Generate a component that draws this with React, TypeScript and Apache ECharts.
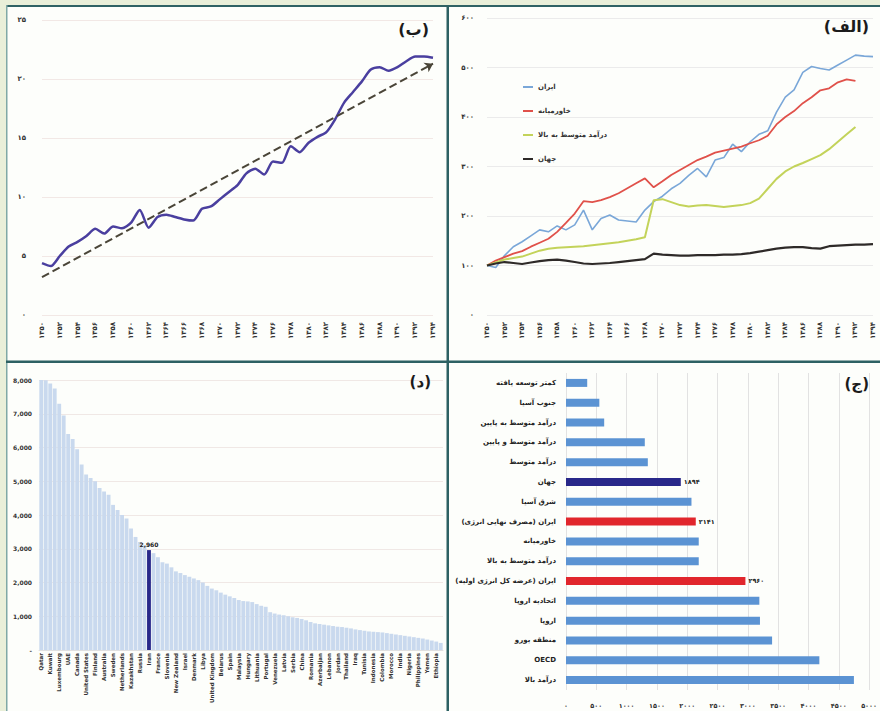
import React, { useEffect, useRef } from "react";
import * as echarts from "echarts";

const FONT = "'DejaVu Sans', 'Noto Sans', sans-serif";

// ---------- shared year categories ----------
const years = [
  "۱۳۵۰", "۱۳۵۱", "۱۳۵۲", "۱۳۵۳", "۱۳۵۴", "۱۳۵۵", "۱۳۵۶", "۱۳۵۷", "۱۳۵۸", "۱۳۵۹",
  "۱۳۶۰", "۱۳۶۱", "۱۳۶۲", "۱۳۶۳", "۱۳۶۴", "۱۳۶۵", "۱۳۶۶", "۱۳۶۷", "۱۳۶۸", "۱۳۶۹",
  "۱۳۷۰", "۱۳۷۱", "۱۳۷۲", "۱۳۷۳", "۱۳۷۴", "۱۳۷۵", "۱۳۷۶", "۱۳۷۷", "۱۳۷۸", "۱۳۷۹",
  "۱۳۸۰", "۱۳۸۱", "۱۳۸۲", "۱۳۸۳", "۱۳۸۴", "۱۳۸۵", "۱۳۸۶", "۱۳۸۷", "۱۳۸۸", "۱۳۸۹",
  "۱۳۹۰", "۱۳۹۱", "۱۳۹۲", "۱۳۹۳", "۱۳۹۴",
];

// ---------- panel (ب) ----------
const seriesB = [
  4.4, 4.15, 5.0, 5.8, 6.2, 6.7, 7.3, 6.9, 7.5, 7.35,
  7.8, 8.9, 7.4, 8.3, 8.5, 8.3, 8.1, 8.0, 9.0, 9.2,
  9.8, 10.4, 11.0, 12.0, 12.4, 11.9, 13.0, 12.9, 14.3, 13.8,
  14.6, 15.1, 15.5, 16.6, 18.0, 18.9, 19.8, 20.8, 21.0, 20.7,
  21.0, 21.5, 21.9, 21.9, 21.8,
];
const trendB = [3.2, 21.3];

// ---------- panel (الف) ----------
const iranIdx = [
  100, 96, 120, 138, 148, 160, 172, 168, 180, 172,
  182, 212, 172, 195, 202, 192, 190, 188, 212, 229,
  240, 255, 266, 282, 296, 279, 313, 318, 345, 330,
  350, 365, 372, 410, 440, 455, 490, 502, 498, 495,
  505, 515, 525, 523, 522,
];
const middleEastIdx = [
  100, 110, 117, 124, 129, 138, 146, 154, 168, 186,
  205, 230, 228, 232, 238, 246, 256, 266, 276, 258,
  270, 283, 293, 303, 313, 320, 328, 332, 336, 340,
  347, 353, 362, 385, 400, 412, 428, 440, 454, 458,
  470, 476, 473,
];
const upperMiddleIdx = [
  100, 106, 112, 115, 118, 124, 130, 134, 136, 137,
  138, 139, 141, 143, 145, 147, 150, 153, 157, 232,
  234, 228, 222, 219, 221, 222, 220, 218, 220, 222,
  226, 235, 255, 275, 290, 300, 307, 315, 323, 335,
  350, 365, 380,
];
const worldIdx = [
  100, 104, 107, 105, 103, 106, 109, 111, 112, 110,
  107, 104, 103, 104, 105, 107, 109, 111, 113, 124,
  122, 121, 120, 120, 121, 121, 121, 122, 122, 123,
  125, 128, 131, 134, 136, 137, 137, 135, 134, 139,
  140, 141, 142, 142, 143,
];
const seriesNamesA = ["ایران", "خاورمیانه", "درآمد متوسط به بالا", "جهان"];

// ---------- panel (د) ----------
const countries = [
  "Qatar", "Iceland", "Kuwait", "Brunei", "Luxembourg", "Trinidad and Tobago", "UAE", "Bahrain", "Canada", "Oman",
  "United States", "Saudi Arabia", "Finland", "Norway", "Australia", "Singapore", "Sweden", "Belgium", "Netherlands", "Korea",
  "Kazakhstan", "Czech Republic", "Russia", "Turkmenistan", "Iran", "Germany", "France", "Japan", "Slovenia", "Austria",
  "New Zealand", "Estonia", "Israel", "Ireland", "Denmark", "Slovakia", "Libya", "Switzerland", "United Kingdom", "Ukraine",
  "Belarus", "Cyprus", "Spain", "Italy", "Malaysia", "Greece", "Hungary", "Poland", "Lithuania", "South Africa",
  "Portugal", "Bulgaria", "Venezuela", "Croatia", "Latvia", "Chile", "Serbia", "Argentina", "China", "Malta",
  "Romania", "Uzbekistan", "Azerbaijan", "Mexico", "Lebanon", "Turkey", "Jordan", "Brazil", "Thailand", "Algeria",
  "Iraq", "Egypt", "Tunisia", "Syria", "Indonesia", "Ecuador", "Colombia", "Peru", "Morocco", "Vietnam",
  "India", "Pakistan", "Nigeria", "Sri Lanka", "Philippines", "Kenya", "Yemen", "Cambodia", "Ethiopia", "Bangladesh",
];
const perCapitaUse = [
  8000, 7990, 7900, 7750, 7300, 6950, 6400, 6250, 5950, 5500,
  5200, 5100, 5000, 4800, 4700, 4600, 4300, 4150, 4000, 3900,
  3600, 3350, 3200, 3100, 2960, 2870, 2750, 2600, 2560, 2450,
  2330, 2280, 2220, 2170, 2120, 2070, 2000, 1900, 1820, 1770,
  1700, 1640, 1590, 1540, 1480, 1450, 1440, 1420, 1360, 1310,
  1280, 1120, 1080, 1050, 1030, 1000, 970, 950, 920, 880,
  830, 790, 770, 750, 730, 710, 690, 680, 660, 640,
  610, 590, 570, 550, 540, 530, 520, 500, 480, 460,
  440, 420, 400, 380, 360, 340, 310, 280, 250, 210,
];
const highlightCountry = "Iran";

// ---------- panel (ج) ----------
const regions = [
  "کمتر توسعه یافته", "جنوب آسیا", "درآمد متوسط به پایین", "درآمد متوسط و پایین", "درآمد متوسط",
  "جهان", "شرق آسیا", "ایران (مصرف نهایی انرژی)", "خاورمیانه", "درآمد متوسط به بالا",
  "ایران (عرضه کل انرژی اولیه)", "اتحادیه اروپا", "اروپا", "منطقه یورو", "OECD", "درآمد بالا",
];
const regionUse = [350, 550, 630, 1300, 1350, 1894, 2070, 2141, 2190, 2190, 2960, 3190, 3200, 3400, 4180, 4750];
const navyRegions = ["جهان"];
const redRegions = ["ایران (مصرف نهایی انرژی)", "ایران (عرضه کل انرژی اولیه)"];

const FA_DIGITS = "۰۱۲۳۴۵۶۷۸۹";
const toFa = (v: number | string) => String(v).replace(/\d/g, (d) => FA_DIGITS[+d]);

const LIGHT_BAR = "#5b93d3";
const NAVY = "#28288a";
const RED = "#e1262c";
const TICK = "#333";

export default function App() {
  const ref = useRef<HTMLDivElement>(null);

  useEffect(() => {
    if (!ref.current) return;
    const chart = echarts.init(ref.current, undefined, { renderer: "svg" });

    const yearAxis = (gridIndex: number) => ({
      gridIndex,
      type: "category",
      data: years,
      boundaryGap: false,
      axisLine: { show: false },
      axisTick: { show: false },
      axisLabel: { interval: 1, rotate: 90, fontSize: 7, fontWeight: "bold", color: TICK, margin: 7, fontFamily: FONT },
    });

    const iranCountryIdx = countries.indexOf(highlightCountry);

    const option: any = {
      animation: false,
      backgroundColor: "#fdfefb",
      textStyle: { fontFamily: FONT },
      title: [
        { text: "(ب)", right: 446, top: 16, textStyle: { fontSize: 16, fontWeight: "bold", color: "#1b1b1b", fontFamily: FONT } },
        { text: "(الف)", right: 6, top: 13, textStyle: { fontSize: 16, fontWeight: "bold", color: "#1b1b1b", fontFamily: FONT } },
        { text: "(د)", right: 444, top: 369, textStyle: { fontSize: 15, fontWeight: "bold", color: "#1b1b1b", fontFamily: FONT } },
        { text: "(ج)", right: 6, top: 371, textStyle: { fontSize: 15, fontWeight: "bold", color: "#1b1b1b", fontFamily: FONT } },
      ],
      legend: {
        data: seriesNamesA,
        orient: "vertical",
        left: 518,
        top: 77,
        align: "left",
        icon: "rect",
        itemWidth: 10,
        itemHeight: 2,
        itemGap: 14,
        textStyle: { fontSize: 7, fontWeight: "bold", color: "#333", lineHeight: 10, fontFamily: FONT },
      },
      grid: [
        { left: 42, top: 20, width: 391, height: 295 },
        { left: 487, top: 18, width: 386, height: 297 },
        { left: 39, top: 380, width: 404, height: 270 },
        { left: 566, top: 373, width: 314, height: 317 },
      ],
      xAxis: [
        yearAxis(0),
        yearAxis(1),
        {
          gridIndex: 2,
          type: "category",
          data: countries,
          axisLine: { lineStyle: { color: "#e0e0e0" } },
          axisTick: { show: false },
          axisLabel: { interval: 1, rotate: 90, fontSize: 5.5, fontWeight: "bold", color: TICK, margin: 3, fontFamily: FONT },
        },
        {
          gridIndex: 3,
          type: "value",
          min: 0,
          max: 5000,
          interval: 500,
          axisLine: { show: false },
          axisTick: { show: false },
          splitLine: { lineStyle: { color: "#e2e2e2" } },
          axisLabel: { formatter: (v: number) => toFa(v), fontSize: 6.5, fontWeight: "bold", color: TICK, margin: 12, fontFamily: FONT },
        },
      ],
      yAxis: [
        {
          gridIndex: 0,
          type: "value",
          min: 0,
          max: 25,
          interval: 5,
          axisLine: { show: false },
          axisTick: { show: false },
          splitLine: { lineStyle: { color: "#f2e8e5" } },
          axisLabel: { formatter: (v: number) => toFa(v), fontSize: 7, fontWeight: "bold", color: TICK, margin: 16, fontFamily: FONT },
        },
        {
          gridIndex: 1,
          type: "value",
          min: 0,
          max: 600,
          interval: 100,
          axisLine: { show: false },
          axisTick: { show: false },
          splitLine: { lineStyle: { color: "#ebebeb" } },
          axisLabel: { formatter: (v: number) => toFa(v), fontSize: 7, fontWeight: "bold", color: TICK, margin: 13, fontFamily: FONT },
        },
        {
          gridIndex: 2,
          type: "value",
          min: 0,
          max: 8000,
          interval: 1000,
          axisLine: { show: false },
          axisTick: { show: false },
          splitLine: { lineStyle: { color: "#f0e8e5" } },
          axisLabel: {
            formatter: (v: number) => (v === 0 ? "-" : v.toLocaleString("en-US")),
            fontSize: 6,
            fontWeight: "bold",
            color: TICK,
            margin: 7,
            fontFamily: FONT,
          },
        },
        {
          gridIndex: 3,
          type: "category",
          data: regions,
          inverse: true,
          axisLine: { show: false },
          axisTick: { show: false },
          axisLabel: { fontSize: 7, fontWeight: "bold", color: "#222", margin: 10, fontFamily: FONT },
        },
      ],
      series: [
        {
          type: "line",
          xAxisIndex: 0,
          yAxisIndex: 0,
          data: seriesB,
          symbol: "none",
          smooth: 0.25,
          lineStyle: { color: "#4a3f9f", width: 2.5 },
          markLine: {
            silent: true,
            symbol: ["none", "arrow"],
            symbolSize: 8,
            label: { show: false },
            lineStyle: { type: "dashed", color: "#4a4538", width: 2 },
            data: [[{ coord: [0, trendB[0]] }, { coord: [years.length - 1, trendB[1]] }]],
          },
        },
        {
          name: seriesNamesA[0],
          type: "line",
          xAxisIndex: 1,
          yAxisIndex: 1,
          data: iranIdx,
          symbol: "none",
          lineStyle: { color: "#7aa7d8", width: 1.6 },
          itemStyle: { color: "#7aa7d8" },
        },
        {
          name: seriesNamesA[1],
          type: "line",
          xAxisIndex: 1,
          yAxisIndex: 1,
          data: middleEastIdx,
          symbol: "none",
          lineStyle: { color: "#e0514a", width: 1.8 },
          itemStyle: { color: "#e0514a" },
        },
        {
          name: seriesNamesA[2],
          type: "line",
          xAxisIndex: 1,
          yAxisIndex: 1,
          data: upperMiddleIdx,
          symbol: "none",
          lineStyle: { color: "#c3d35a", width: 2 },
          itemStyle: { color: "#c3d35a" },
        },
        {
          name: seriesNamesA[3],
          type: "line",
          xAxisIndex: 1,
          yAxisIndex: 1,
          data: worldIdx,
          symbol: "none",
          lineStyle: { color: "#2e2a28", width: 2.2 },
          itemStyle: { color: "#2e2a28" },
        },
        {
          type: "bar",
          xAxisIndex: 2,
          yAxisIndex: 2,
          barCategoryGap: "14%",
          itemStyle: { color: "#c9d9ee" },
          data: perCapitaUse.map((v, i) =>
            i === iranCountryIdx
              ? {
                  value: v,
                  itemStyle: { color: NAVY },
                  label: {
                    show: true,
                    position: "top",
                    formatter: (p: any) => Number(p.value).toLocaleString("en-US"),
                    fontSize: 6,
                    fontWeight: "bold",
                    color: "#222",
                    distance: 3,
                    fontFamily: FONT,
                  },
                }
              : v
          ),
        },
        {
          type: "bar",
          xAxisIndex: 3,
          yAxisIndex: 3,
          barWidth: 8,
          data: regionUse.map((v, i) => {
            const name = regions[i];
            if (navyRegions.includes(name) || redRegions.includes(name)) {
              return {
                value: v,
                itemStyle: { color: navyRegions.includes(name) ? NAVY : RED },
                label: {
                  show: true,
                  position: "right",
                  formatter: (p: any) => toFa(p.value),
                  fontSize: 6.5,
                  fontWeight: "bold",
                  color: "#222",
                  distance: 3,
                  fontFamily: FONT,
                },
              };
            }
            return { value: v, itemStyle: { color: LIGHT_BAR } };
          }),
        },
      ],
      graphic: [
        { type: "rect", z: 100, silent: true, shape: { x: 0, y: 0, width: 880, height: 5 }, style: { fill: "#e9efd9" } },
        { type: "rect", z: 100, silent: true, shape: { x: 0, y: 0, width: 6, height: 711 }, style: { fill: "#e9efd9" } },
        { type: "rect", z: 101, silent: true, shape: { x: 6, y: 5, width: 874, height: 2 }, style: { fill: "#2f6264" } },
        { type: "rect", z: 101, silent: true, shape: { x: 6, y: 5, width: 1.5, height: 706 }, style: { fill: "#7fa8a6" } },
        { type: "rect", z: 101, silent: true, shape: { x: 446.5, y: 5, width: 2.5, height: 706 }, style: { fill: "#2d6163" } },
        { type: "rect", z: 101, silent: true, shape: { x: 6, y: 360.5, width: 874, height: 2.5 }, style: { fill: "#2d6163" } },
      ],
    };

    chart.setOption(option);
    return () => chart.dispose();
  }, []);

  return <div ref={ref} style={{ position: "fixed", left: 0, top: 0, width: 880, height: 711 }} />;
}
